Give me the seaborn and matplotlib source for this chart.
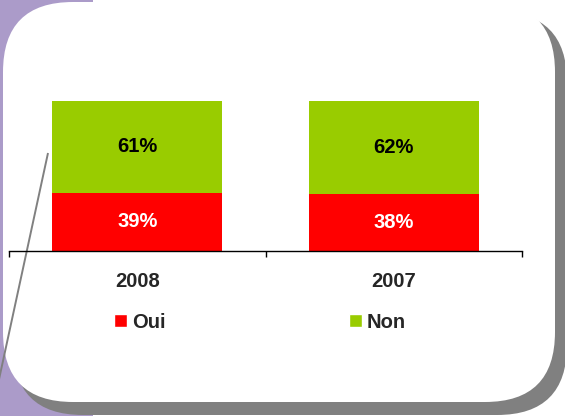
import matplotlib
matplotlib.use('Agg')
import matplotlib.pyplot as plt
import seaborn as sns
import pandas as pd
from matplotlib.patches import FancyBboxPatch, Rectangle, Patch

# donnees
annees = ['2008', '2007']
oui = [39, 38]
non = [61, 62]

ROUGE = '#ff0000'
VERT = '#99cc00'
VIOLET = '#ab9bc9'
GRIS = '#808080'

sns.set_style('white')
plt.rcParams['font.family'] = ['Liberation Sans', 'DejaVu Sans']

fig = plt.figure(figsize=(5.65, 4.16), dpi=100)
fig.patch.set_facecolor('white')

# fond : bande violette, ombre grise, cadre blanc arrondi
bg = fig.add_axes([0, 0, 1, 1], zorder=0)
bg.set_xlim(0, 565)
bg.set_ylim(416, 0)
bg.axis('off')
bg.add_patch(Rectangle((0, 0), 93, 416, facecolor=VIOLET, edgecolor='none'))
bg.add_patch(FancyBboxPatch((13, 12), 554, 403,
                            boxstyle='round,pad=0,rounding_size=70',
                            facecolor=GRIS, edgecolor='none'))
bg.add_patch(FancyBboxPatch((3, 2), 552, 400,
                            boxstyle='round,pad=0,rounding_size=70',
                            facecolor='white', edgecolor='none'))
bg.plot([48, -2], [153, 384], color=GRIS, lw=1.4, solid_capstyle='butt')

# barres empilees
ax = fig.add_axes([9 / 565, (416 - 251) / 416, 513 / 565, 150 / 416], zorder=2)
ax.patch.set_alpha(0)
df = pd.DataFrame({'annee': annees, 'oui': oui,
                   'total': [o + n for o, n in zip(oui, non)]})
sns.barplot(data=df, x='annee', y='total', color=VERT, saturation=1,
            width=0.663, linewidth=0, ax=ax)
sns.barplot(data=df, x='annee', y='oui', color=ROUGE, saturation=1,
            width=0.663, linewidth=0, ax=ax)
ax.set_xlim(-0.5, 1.5)
ax.set_ylim(0, 100)
ax.set_xlabel('')
ax.set_ylabel('')
ax.set_yticks([])
for s in ['top', 'left', 'right']:
    ax.spines[s].set_visible(False)
ax.spines['bottom'].set_linewidth(1.0)
ax.spines['bottom'].set_color('black')
ax.set_xticks([-0.5, 0.5, 1.5], minor=True)
ax.tick_params(axis='x', which='minor', direction='out', length=4.5,
               width=1.0, color='black', bottom=True)
ax.tick_params(axis='x', which='major', length=0, pad=15,
               labelsize=14.5)
for lab in ax.get_xticklabels():
    lab.set_fontweight('bold')

for i in range(len(annees)):
    ax.text(i, oui[i] / 2, f'{oui[i]}%', ha='center', va='center',
            color='white', fontsize=14.5, fontweight='bold')
    ax.text(i, oui[i] + non[i] / 2, f'{non[i]}%', ha='center', va='center',
            color='black', fontsize=14.5, fontweight='bold')

handles = [Patch(facecolor=ROUGE, label='Oui'), Patch(facecolor=VERT, label='Non')]
ax.legend(handles=handles, ncol=2, loc='center left',
          bbox_to_anchor=(114 / 565, (416 - 322) / 416),
          bbox_transform=fig.transFigure, frameon=False,
          handlelength=0.65, handleheight=0.65, handletextpad=0.25,
          columnspacing=9.1, borderpad=0, borderaxespad=0,
          prop={'weight': 'bold', 'size': 14.5})

fig.savefig('out.png', dpi=100)
